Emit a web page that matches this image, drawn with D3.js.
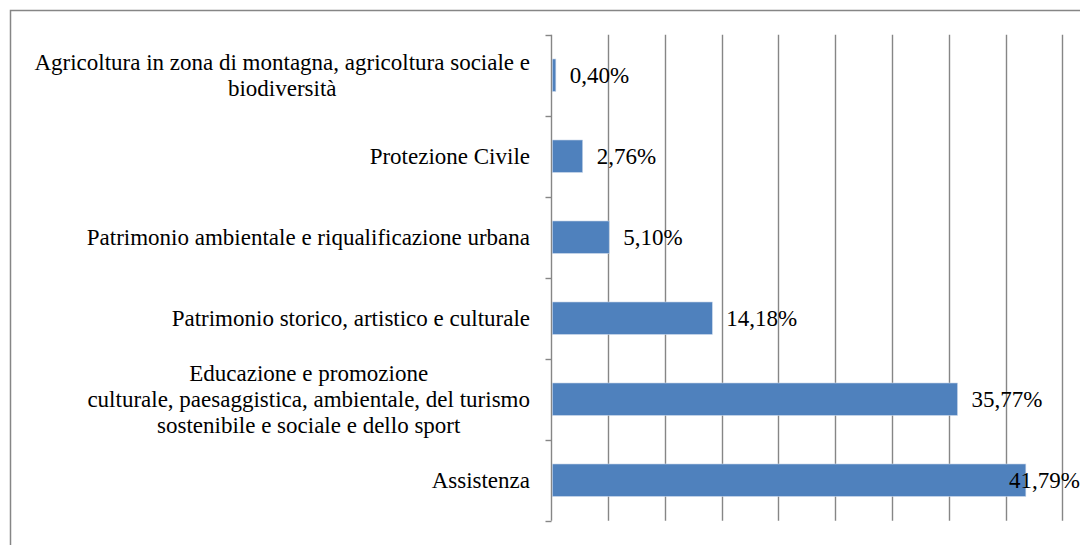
<!DOCTYPE html>
<html lang="it">
<head>
  <meta charset="UTF-8">
  <title>Settori di intervento</title>
  <script src="https://d3js.org/d3.v7.min.js"></script>
  <style>
    body { margin: 0; background: #fff; }
    svg { display: block; }
    text { font-family: 'Liberation Serif', 'Times New Roman', Times, serif; fill: #000; }
  </style>
</head>
<body>
  <div id="chart"></div>
  <script>
    // Dati (dall'alto verso il basso)
    var categories = [
      'Agricoltura in zona di montagna, agricoltura sociale e\nbiodiversità',
      'Protezione Civile',
      'Patrimonio ambientale e riqualificazione urbana',
      'Patrimonio storico, artistico e culturale',
      'Educazione e promozione\nculturale, paesaggistica, ambientale, del turismo\nsostenibile e sociale e dello sport',
      'Assistenza'
    ];
    var values = [0.40, 2.76, 5.10, 14.18, 35.77, 41.79];
    var valueLabels = ['0,40%', '2,76%', '5,10%', '14,18%', '35,77%', '41,79%'];
    var xTicks = [0, 5, 10, 15, 20, 25, 30, 35, 40, 45];

    var W = 1080, H = 545;
    var fontSize = 23;
    var fontFamily = "'Liberation Serif', 'Times New Roman', Times, serif";
    var gray = '#868686';

    var svg = d3.select('#chart')
      .append('svg')
      .attr('width', W)
      .attr('height', H)
      .attr('font-family', fontFamily);

    // Cornice esterna
    svg.append('path')
      .attr('d', 'M10.5,' + (H + 5) + 'V10.5H' + (W + 5))
      .attr('fill', 'none')
      .attr('stroke', gray)
      .attr('stroke-width', 1.5);

    var xScale = d3.scaleLinear()
      .domain([0, 45])
      .range([551.3, 1062.3]);

    var yScale = d3.scaleBand()
      .domain(categories)
      .range([34.7, 520.7])
      .padding(0);

    var plotTop = yScale.range()[0];
    var plotBottom = yScale.range()[1];

    // Griglia verticale
    svg.append('g')
      .selectAll('line')
      .data(xTicks.slice(1))
      .enter()
      .append('line')
      .attr('x1', function(d) { return Math.round(xScale(d)) + 0.5; })
      .attr('x2', function(d) { return Math.round(xScale(d)) + 0.5; })
      .attr('y1', plotTop)
      .attr('y2', plotBottom)
      .attr('stroke', gray)
      .attr('stroke-width', 1.4);

    // Asse verticale con tacche ai confini delle categorie
    var axisX = Math.round(xScale(0)) + 0.5;
    svg.append('line')
      .attr('x1', axisX).attr('x2', axisX)
      .attr('y1', plotTop).attr('y2', plotBottom)
      .attr('stroke', gray)
      .attr('stroke-width', 1.4);

    var boundaries = categories.map(function(c) { return yScale(c); }).concat([plotBottom]);
    svg.append('g')
      .selectAll('line')
      .data(boundaries)
      .enter()
      .append('line')
      .attr('x1', axisX - 6)
      .attr('x2', axisX)
      .attr('y1', function(d) { return Math.round(d) + 0.5; })
      .attr('y2', function(d) { return Math.round(d) + 0.5; })
      .attr('stroke', gray)
      .attr('stroke-width', 1.4);

    // Barre
    var barH = yScale.bandwidth() * 0.4;
    svg.append('g')
      .selectAll('rect')
      .data(values)
      .enter()
      .append('rect')
      .attr('x', xScale(0) + 1)
      .attr('y', function(d, i) { return yScale(categories[i]) + (yScale.bandwidth() - barH) / 2; })
      .attr('width', function(d) { return xScale(d) - xScale(0) - 1; })
      .attr('height', barH)
      .attr('fill', '#4f81bd')
      .attr('stroke', '#c6d4e8')
      .attr('stroke-width', 0.6);

    // Etichette dei valori
    svg.append('g')
      .selectAll('text')
      .data(values)
      .enter()
      .append('text')
      .attr('font-size', fontSize)
      .attr('font-family', fontFamily)
      .attr('y', function(d, i) { return yScale(categories[i]) + yScale.bandwidth() / 2; })
      .attr('dy', '0.33em')
      .text(function(d, i) { return valueLabels[i]; })
      .attr('x', function(d) {
        var w = this.getComputedTextLength();
        return Math.min(xScale(d) + 14, W - w);
      });

    // Etichette delle categorie (a righe centrate, allineate a destra)
    var labelRight = 530;
    var lineH = 26;
    categories.forEach(function(c) {
      var lines = c.split('\n');
      var cy = yScale(c) + yScale.bandwidth() / 2;
      var t = svg.append('text')
        .attr('font-size', fontSize)
        .attr('font-family', fontFamily)
        .attr('text-anchor', 'middle');
      lines.forEach(function(l, k) {
        t.append('tspan')
          .attr('y', cy + (k - (lines.length - 1) / 2) * lineH)
          .attr('dy', '0.33em')
          .text(l);
      });
      var maxW = 0;
      t.selectAll('tspan').each(function() {
        maxW = Math.max(maxW, this.getComputedTextLength());
      });
      t.selectAll('tspan').attr('x', labelRight - maxW / 2);
    });
  </script>
</body>
</html>
